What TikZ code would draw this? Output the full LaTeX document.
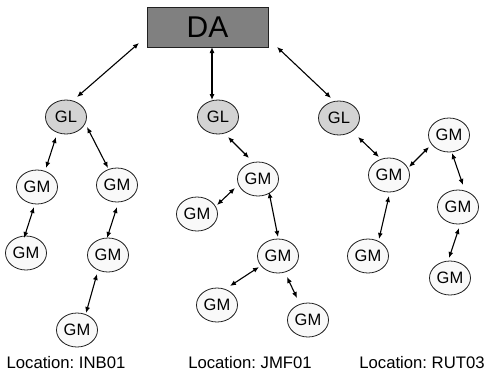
\documentclass[tikz,border=0pt]{standalone}
\usepackage{fontspec}
\setmainfont{Liberation Sans}
\usetikzlibrary{arrows.meta,shapes.geometric}
\frenchspacing
\definecolor{dagray}{HTML}{808080}
\definecolor{glgray}{HTML}{D3D3D3}
\definecolor{gmfill}{HTML}{F9F9F9}
\definecolor{edgecol}{HTML}{202020}
\tikzset{
  dabox/.style={draw=edgecol,line width=0.9pt,fill=dagray,minimum width=121pt,minimum height=40pt,inner sep=0pt,font=\fontsize{30}{30}\selectfont},
  glnode/.style={ellipse,draw=edgecol,line width=0.8pt,fill=glgray,minimum width=41pt,minimum height=34pt,inner sep=0pt,font=\fontsize{16.5}{16.5}\selectfont},
  gmnode/.style={ellipse,draw=edgecol,line width=0.8pt,fill=gmfill,minimum width=41pt,minimum height=34pt,inner sep=0pt,font=\fontsize{16.5}{16.5}\selectfont},
  loclabel/.style={inner sep=0pt,font=\fontsize{16.7}{16.7}\selectfont},
  arr/.style={{Latex[length=6pt,width=5pt]}-{Latex[length=6pt,width=5pt]},line width=1.1pt,black}
}
\begin{document}
\begin{tikzpicture}[x=1pt,y=-1pt]
\useasboundingbox (0,0) rectangle (488,376);
% DA
\node[dabox] (DA) at (207.5,27) {DA};
% GL
\node[glnode] (GL1) at (66,117) {GL};
\node[glnode] (GL2) at (218,117) {GL};
\node[glnode] (GL3) at (339,118) {GL};
% column 1
\node[gmnode] (m1a) at (37,187) {GM};
\node[gmnode] (m1b) at (117,185) {GM};
\node[gmnode] (m1c) at (26,253) {GM};
\node[gmnode] (m1d) at (108,255) {GM};
\node[gmnode] (m1e) at (77,330) {GM};
% column 2
\node[gmnode] (m2a) at (258,179) {GM};
\node[gmnode] (m2b) at (197,214) {GM};
\node[gmnode] (m2c) at (278,256) {GM};
\node[gmnode] (m2d) at (217,305) {GM};
\node[gmnode] (m2e) at (308,320) {GM};
% column 3
\node[gmnode] (m3a) at (389,175) {GM};
\node[gmnode] (m3b) at (449,135) {GM};
\node[gmnode] (m3c) at (458,207) {GM};
\node[gmnode] (m3d) at (368,256) {GM};
\node[gmnode] (m3e) at (450,278) {GM};
% labels
\node[loclabel] (L1) at (66,363) {Location: INB01};
\node[loclabel] (L2) at (250,363) {Location: JMF01};
\node[loclabel] (L3) at (422,363) {Location: RUT03};
% arrows
\draw[arr] ([shift={(-68.5,16)}]DA.center) -- ([shift={(11,-20)}]GL1.center);
\draw[arr] ([shift={(4.5,20)}]DA.center) -- ([shift={(-6,-17)}]GL2.center);
\draw[arr] ([shift={(69.5,20)}]DA.center) -- ([shift={(-8,-20)}]GL3.center);
\draw[arr] ([shift={(-10,20)}]GL1.center) -- ([shift={(9,-19)}]m1a.center);
\draw[arr] ([shift={(21,10)}]GL1.center) -- ([shift={(-9,-17)}]m1b.center);
\draw[arr] ([shift={(-3,20)}]m1a.center) -- ([shift={(-2,-15)}]m1c.center);
\draw[arr] ([shift={(0,22)}]m1b.center) -- ([shift={(-1,-17)}]m1d.center);
\draw[arr] ([shift={(-11,19)}]m1d.center) -- ([shift={(9,-17)}]m1e.center);
\draw[arr] ([shift={(10,20)}]GL2.center) -- ([shift={(-9,-21)}]m2a.center);
\draw[arr] ([shift={(-23,9)}]m2a.center) -- ([shift={(20,-9)}]m2b.center);
\draw[arr] ([shift={(11,13)}]m2a.center) -- ([shift={(0,-19)}]m2c.center);
\draw[arr] ([shift={(-19,11)}]m2c.center) -- ([shift={(13,-19)}]m2d.center);
\draw[arr] ([shift={(9,21)}]m2c.center) -- ([shift={(-11,-22)}]m2e.center);
\draw[arr] ([shift={(19,19)}]GL3.center) -- ([shift={(-10,-18)}]m3a.center);
\draw[arr] ([shift={(20,-8)}]m3a.center) -- ([shift={(-20,12)}]m3b.center);
\draw[arr] ([shift={(3,18)}]m3b.center) -- ([shift={(5,-22)}]m3c.center);
\draw[arr] ([shift={(0,21)}]m3a.center) -- ([shift={(11,-17)}]m3d.center);
\draw[arr] ([shift={(1,21)}]m3c.center) -- ([shift={(-1,-20)}]m3e.center);
\end{tikzpicture}
\end{document}
